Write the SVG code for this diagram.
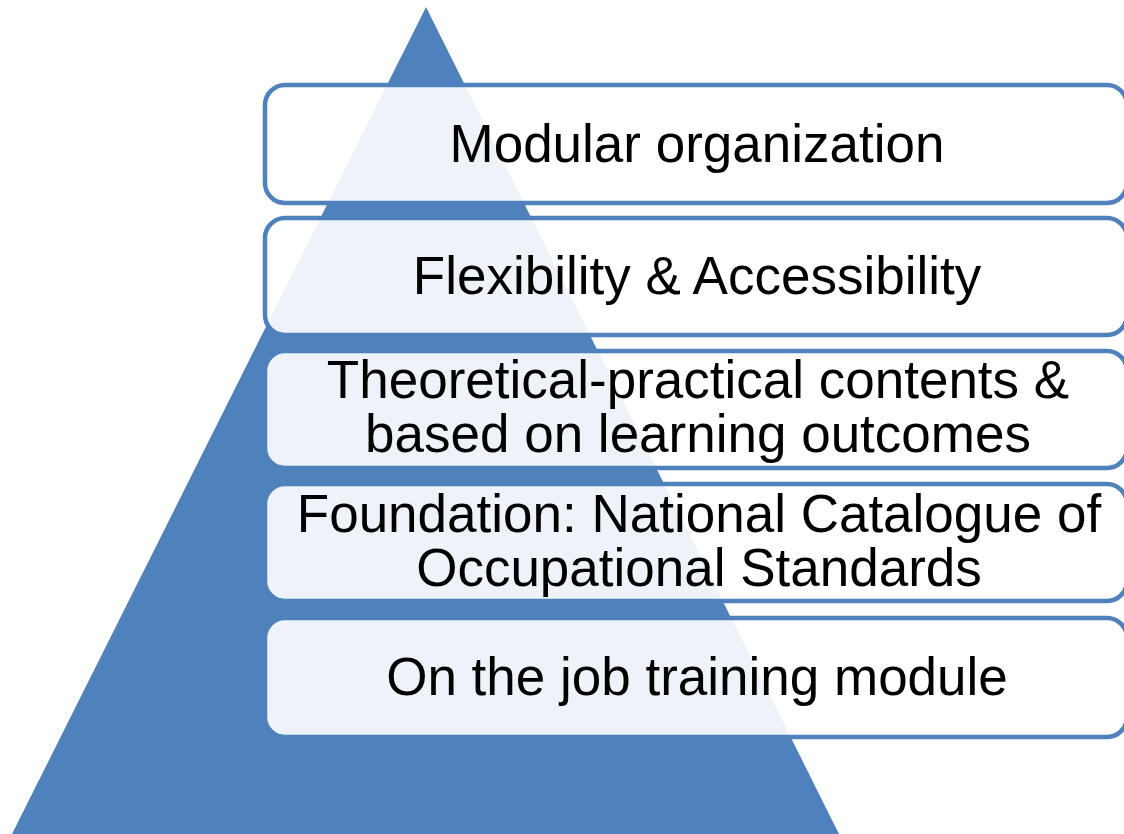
<svg xmlns="http://www.w3.org/2000/svg" width="1124" height="834" viewBox="0 0 1124 834">
<style>
.box{fill:#ffffff;fill-opacity:0.9;stroke:#4F81BD;stroke-width:4.5}
.lbl{font-family:"Liberation Sans",Arial,sans-serif;font-size:53px;fill:#000;text-anchor:middle}
</style>
<rect width="1124" height="834" fill="#ffffff"/>
<g id="pyramid"><polygon points="426,7 12,834 839,834" fill="#4F81BD"/></g>
<g id="connectors"></g>
<g id="n1"><rect class="box" x="265" y="85" width="862" height="118" rx="20"/><text class="lbl" x="697" y="162">Modular organization</text></g>
<g id="n2"><rect class="box" x="265" y="218" width="862" height="117" rx="20"/><text class="lbl" x="697" y="294">Flexibility &amp; Accessibility</text></g>
<g id="n3"><rect class="box" x="265" y="351" width="862" height="117" rx="20"/><text class="lbl" x="698" y="398">Theoretical-practical contents &amp;</text><text class="lbl" x="698" y="452">based on learning outcomes</text></g>
<g id="n4"><rect class="box" x="265" y="484" width="862" height="117" rx="20"/><text class="lbl" x="699" y="532">Foundation: National Catalogue of</text><text class="lbl" x="699" y="586">Occupational Standards</text></g>
<g id="n5"><rect class="box" x="265" y="618" width="862" height="119" rx="20"/><text class="lbl" x="697" y="695">On the job training module</text></g>
</svg>
